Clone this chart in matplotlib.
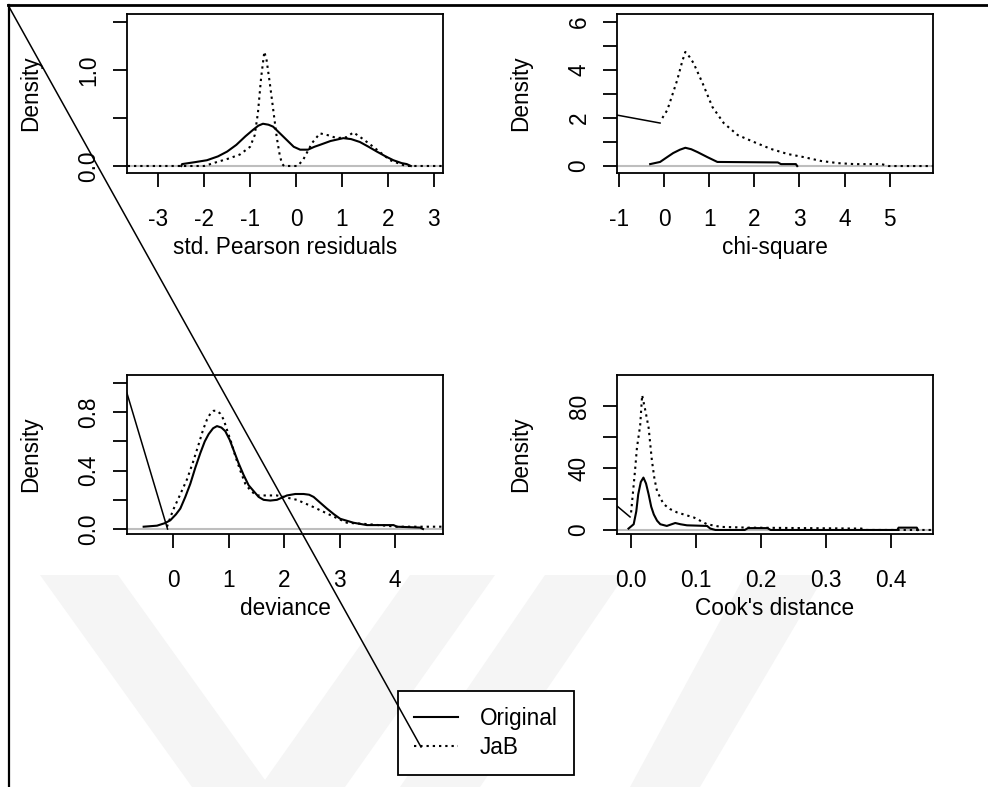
import matplotlib
matplotlib.use("Agg")
import matplotlib.pyplot as plt
from matplotlib.lines import Line2D
from matplotlib.patches import Polygon

plt.rcParams['font.family'] = ['Liberation Sans', 'DejaVu Sans']

W, H = 988, 787
FS = 16.3
LW = 1.5
DOT = (0, (1.1, 1.9))

# std. Pearson residuals
pear_orig_x = [-2.5, -2.48, -2.2, -1.94, -1.7, -1.5, -1.3, -1.1, -0.94, -0.82, -0.72, -0.6,
               -0.5, -0.35, -0.2, -0.05, 0.09, 0.26, 0.4, 0.52, 0.75, 1.03, 1.2, 1.39,
               1.58, 1.76, 1.95, 2.12, 2.3, 2.41, 2.5]
pear_orig_y = [0, 0.02, 0.04, 0.06, 0.1, 0.15, 0.22, 0.31, 0.375, 0.42, 0.44, 0.43,
               0.41, 0.34, 0.27, 0.2, 0.17, 0.17, 0.2, 0.22, 0.26, 0.29, 0.28, 0.25,
               0.2, 0.15, 0.1, 0.06, 0.03, 0.02, 0]
pear_jab_x = [-3.8, -2.0, -1.73, -1.45, -1.22, -1.0, -0.9, -0.83, -0.76, -0.69, -0.64, -0.57,
              -0.5, -0.42, -0.35, -0.3, -0.26, 0.03, 0.15, 0.25, 0.35, 0.52, 0.7, 0.89,
              1.1, 1.25, 1.43, 1.6, 1.76, 2.05, 2.33, 2.45, 3.3]
pear_jab_y = [0, 0, 0.04, 0.08, 0.12, 0.2, 0.32, 0.55, 0.92, 1.19, 1.1, 0.86,
              0.6, 0.3, 0.1, 0.02, 0, 0, 0.06, 0.15, 0.24, 0.34, 0.32, 0.29,
              0.30, 0.35, 0.29, 0.23, 0.17, 0.06, 0.01, 0, 0]

# chi-square
chi_orig_x = [-0.31, -0.09, 0.05, 0.2, 0.35, 0.47, 0.6, 0.74, 0.96, 1.18, 2.52, 2.59, 2.92, 2.95]
chi_orig_y = [0.08, 0.17, 0.35, 0.54, 0.68, 0.76, 0.7, 0.58, 0.37, 0.17, 0.15, 0.08, 0.08, 0.0]
chi_jab_x = [-0.04, 0.07, 0.18, 0.29, 0.4, 0.47, 0.56, 0.65, 0.85, 1.07, 1.32, 1.63, 1.99,
             2.37, 2.74, 3.1, 3.48, 3.86, 4.22, 4.82, 4.98, 6.1]
chi_jab_y = [2.0, 2.33, 2.95, 3.58, 4.35, 4.75, 4.55, 4.29, 3.46, 2.46, 1.79, 1.29, 1.0,
             0.71, 0.5, 0.37, 0.21, 0.12, 0.08, 0.08, 0.0, 0.0]
chi_lead_x = [-1.1, -0.09]
chi_lead_y = [2.14, 1.79]

# deviance
dev_orig_x = [-0.53, -0.29, -0.15, -0.05, 0.05, 0.13, 0.22, 0.31, 0.4, 0.49, 0.57, 0.64,
              0.72, 0.79, 0.87, 0.94, 1.02, 1.09, 1.18, 1.27, 1.36, 1.45, 1.54, 1.63, 1.75,
              1.87, 2.05, 2.2, 2.35, 2.45, 2.53, 2.65, 2.77, 2.9, 3.01, 3.25, 3.49, 3.97,
              4.03, 4.45, 4.5]
dev_orig_y = [0.016, 0.023, 0.04, 0.06, 0.1, 0.14, 0.22, 0.31, 0.42, 0.52, 0.6, 0.65,
              0.69, 0.705, 0.695, 0.67, 0.61, 0.54, 0.45, 0.37, 0.3, 0.26, 0.22, 0.2, 0.195,
              0.2, 0.23, 0.24, 0.24, 0.235, 0.22, 0.18, 0.14, 0.1, 0.07, 0.043, 0.027, 0.027,
              0.016, 0.01, 0.0]
dev_jab_x = [-0.11, 0.0, 0.12, 0.25, 0.36, 0.46, 0.54, 0.61, 0.67, 0.73, 0.79, 0.85, 0.91,
             0.97, 1.05, 1.12, 1.21, 1.30, 1.4, 1.51, 1.87, 2.23, 2.53, 2.83, 3.13, 3.49,
             4.03, 4.9]
dev_jab_y = [0.016, 0.13, 0.23, 0.34, 0.46, 0.58, 0.68, 0.75, 0.79, 0.81, 0.81, 0.79, 0.75,
             0.68, 0.59, 0.50, 0.4, 0.31, 0.26, 0.23, 0.23, 0.2, 0.15, 0.096, 0.043, 0.034,
             0.016, 0.016]
dev_lead_x = [-0.83, -0.1]
dev_lead_y = [0.93, 0.0]

# Cook's distance
cook_orig_x = [-0.004, 0.004, 0.008, 0.011, 0.015, 0.019, 0.023, 0.027, 0.031, 0.035, 0.04,
               0.045, 0.055, 0.068, 0.076, 0.086, 0.117, 0.122, 0.13, 0.175, 0.18, 0.21,
               0.215, 0.41, 0.412, 0.44, 0.442]
cook_orig_y = [0.9, 3.7, 12, 23, 31, 33.8, 30, 23, 15, 10, 6,
               3.7, 2.6, 4.5, 3.7, 3.0, 2.6, 0.9, 0, 0, 1.2, 1.2,
               0, 0, 1.5, 1.5, 0]
cook_jab_x = [0.0, 0.006, 0.009, 0.014, 0.017, 0.022, 0.027, 0.032, 0.036, 0.04, 0.05, 0.06,
              0.071, 0.097, 0.117, 0.138, 0.18, 0.355, 0.36, 0.47]
cook_jab_y = [11.3, 38, 53, 67.5, 87, 77, 66, 45, 33, 25, 16.7, 13.5,
              11.3, 8, 3.7, 2, 1.5, 0.9, 0, 0]
cook_lead_x = [-0.03, -0.0016]
cook_lead_y = [18.4, 8.4]

series_names = ["Original", "JaB"]

panels = [
    dict(box=(127, 14), xlabel="std. Pearson residuals",
         orig=(pear_orig_x, pear_orig_y), jab=(pear_jab_x, pear_jab_y), lead=None,
         xlim=(-3.68, 3.20), ylim=(-0.073, 1.583),
         xticks=[-3, -2, -1, 0, 1, 2, 3], xlabels=["-3", "-2", "-1", "0", "1", "2", "3"],
         yticks=[0, 0.5, 1.0, 1.5], ylabels=["0.0", "", "1.0", ""]),
    dict(box=(617, 14), xlabel="chi-square",
         orig=(chi_orig_x, chi_orig_y), jab=(chi_jab_x, chi_jab_y), lead=(chi_lead_x, chi_lead_y),
         xlim=(-1.045, 5.96), ylim=(-0.29, 6.33),
         xticks=[-1, 0, 1, 2, 3, 4, 5], xlabels=["-1", "0", "1", "2", "3", "4", "5"],
         yticks=[0, 1, 2, 3, 4, 5, 6], ylabels=["0", "", "2", "", "4", "", "6"]),
    dict(box=(127, 375), xlabel="deviance",
         orig=(dev_orig_x, dev_orig_y), jab=(dev_jab_x, dev_jab_y), lead=(dev_lead_x, dev_lead_y),
         xlim=(-0.83, 4.86), ylim=(-0.034, 1.055),
         xticks=[0, 1, 2, 3, 4], xlabels=["0", "1", "2", "3", "4"],
         yticks=[0, 0.2, 0.4, 0.6, 0.8, 1.0], ylabels=["0.0", "", "0.4", "", "0.8", ""]),
    dict(box=(617, 375), xlabel="Cook's distance",
         orig=(cook_orig_x, cook_orig_y), jab=(cook_jab_x, cook_jab_y), lead=(cook_lead_x, cook_lead_y),
         xlim=(-0.0217, 0.465), ylim=(-2.6, 100),
         xticks=[0, 0.1, 0.2, 0.3, 0.4], xlabels=["0.0", "0.1", "0.2", "0.3", "0.4"],
         yticks=[0, 20, 40, 60, 80], ylabels=["0", "", "40", "", "80"]),
]

fig = plt.figure(figsize=(W / 100, H / 100), dpi=100)

# faint background watermark bands
for band in [
    [(40, 575), (118, 575), (270, 787), (192, 787)],
    [(410, 575), (495, 575), (345, 787), (260, 787)],
    [(545, 575), (625, 575), (480, 787), (400, 787)],
    [(745, 575), (825, 575), (700, 787), (630, 787)],
]:
    pts = [(x / W, 1 - y / H) for x, y in band]
    fig.add_artist(Polygon(pts, closed=True, transform=fig.transFigure,
                           facecolor="#f5f5f5", edgecolor="none", zorder=-10))

bw, bh = 316, 159
for p in panels:
    x0, y0 = p["box"]
    ax = fig.add_axes([x0 / W, 1 - (y0 + bh) / H, bw / W, bh / H])
    ax.set_facecolor("none")
    ax.axhline(0, color="#bebebe", lw=LW, zorder=1)
    ax.plot(*p["orig"], color="black", lw=LW, zorder=3)
    ax.plot(*p["jab"], color="black", lw=LW, linestyle=DOT, zorder=3)
    if p["lead"] is not None:
        ax.plot(*p["lead"], color="black", lw=1.1, zorder=3)
    ax.set_xlim(*p["xlim"])
    ax.set_ylim(*p["ylim"])
    ax.set_xticks(p["xticks"])
    ax.set_xticklabels(p["xlabels"], fontsize=FS)
    ax.set_yticks(p["yticks"])
    ax.set_yticklabels(p["ylabels"], fontsize=FS, rotation=90, va="center")
    ax.tick_params(axis="both", length=10, width=1.3, color="black")
    ax.tick_params(axis="x", pad=15)
    ax.tick_params(axis="y", pad=9)
    for s in ax.spines.values():
        s.set_linewidth(1.3)
    ax.set_xlabel(p["xlabel"], fontsize=FS)
    ax.xaxis.set_label_coords(0.5, -0.47)
    ax.xaxis.label.set_va("center")
    ax.set_ylabel("Density", fontsize=FS)
    ax.yaxis.set_label_coords(-0.306, 0.5)
    ax.yaxis.label.set_va("center")
    ax.yaxis.label.set_ha("center")

# outer frame and the long diagonal stroke
fig.add_artist(Line2D([8 / W, 1], [1 - 5 / H, 1 - 5 / H], transform=fig.transFigure,
                      color="black", lw=2.0))
fig.add_artist(Line2D([9 / W, 9 / W], [0, 1 - 5 / H], transform=fig.transFigure,
                      color="black", lw=1.6))
fig.add_artist(Line2D([8 / W, 421 / W], [1 - 5 / H, 1 - 747 / H], transform=fig.transFigure,
                      color="black", lw=1.1, zorder=5))

handles = [Line2D([], [], color="black", lw=LW),
           Line2D([], [], color="black", lw=LW, linestyle=DOT)]
leg = fig.legend(handles, series_names, loc="upper left",
                 bbox_to_anchor=(398 / W, 1 - 691 / H), bbox_transform=fig.transFigure,
                 borderaxespad=0, fancybox=False, edgecolor="black", framealpha=1,
                 handlelength=1.95, handletextpad=0.95, borderpad=0.72, labelspacing=0.25,
                 fontsize=FS)
leg.get_frame().set_linewidth(1.3)
leg.set_zorder(4)

fig.savefig("out.png", dpi=100)
